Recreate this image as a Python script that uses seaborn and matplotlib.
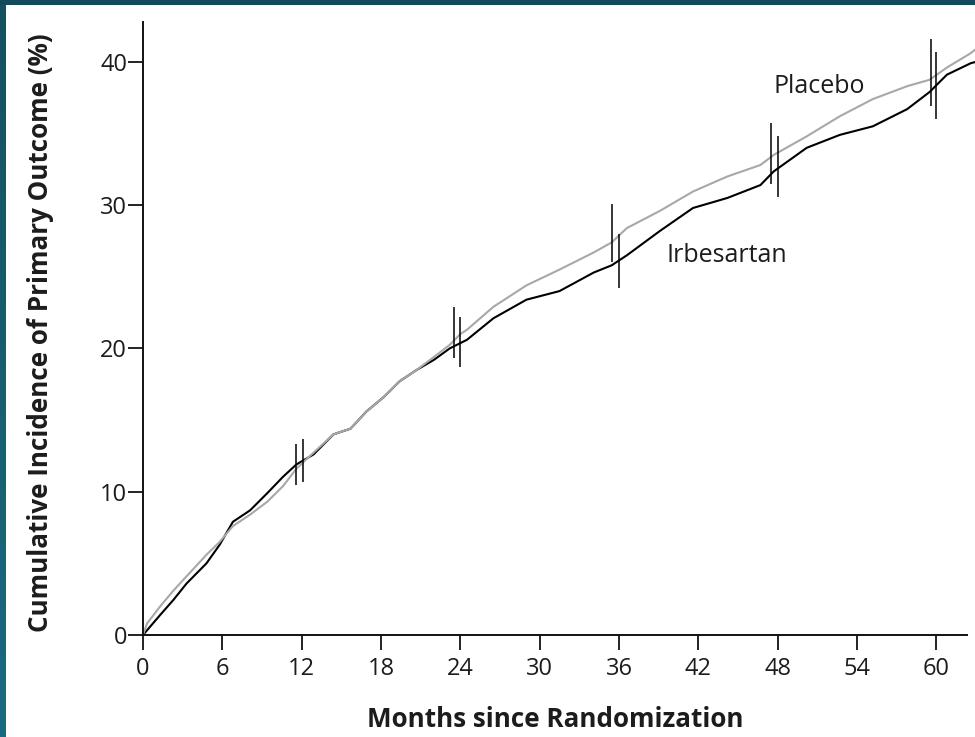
import numpy as np
import pandas as pd
import matplotlib
matplotlib.use("Agg")
import matplotlib.pyplot as plt
import seaborn as sns
from matplotlib.patches import Rectangle

# Kurvenwerte, Monate / kumulative Inzidenz in %
irb_months = [0, 1.3, 2.3, 3.3, 4.8, 5.8, 6.8, 8.1, 9.4, 10.6, 11.6, 12.9, 14.4, 15.7,
              16.9, 18.2, 19.4, 20.7, 22.0, 23.2, 24.5, 26.5, 29.0, 31.5, 34.1, 35.45,
              36.6, 39.1, 41.6, 44.2, 46.7, 47.7, 50.2, 52.7, 55.2, 57.8, 59.5, 60.8,
              62.6, 63.0]
irb_pct = [0, 1.4, 2.45, 3.6, 5.0, 6.3, 7.9, 8.7, 9.9, 11.05, 11.9, 12.6, 14.0, 14.4,
           15.6, 16.6, 17.7, 18.5, 19.2, 20.0, 20.6, 22.1, 23.4, 24.0, 25.3, 25.8,
           26.5, 28.2, 29.8, 30.5, 31.4, 32.35, 34.0, 34.9, 35.5, 36.7, 37.9, 39.1,
           39.9, 40.0]

plc_months = [0, 0.3, 1.3, 2.3, 3.3, 4.8, 5.8, 6.8, 8.1, 9.4, 10.6, 11.6, 12.4, 14.4,
              15.7, 16.9, 18.2, 19.4, 20.7, 22.0, 23.2, 24.0, 24.5, 26.5, 29.0, 31.5,
              34.1, 35.45, 36.6, 39.1, 41.6, 44.2, 46.7, 47.7, 50.2, 52.7, 55.2, 57.8,
              59.5, 60.8, 62.6, 63.0]
plc_pct = [0, 0.8, 2.0, 3.1, 4.1, 5.6, 6.5, 7.6, 8.4, 9.3, 10.4, 11.6, 12.3, 14.0,
           14.4, 15.6, 16.6, 17.7, 18.5, 19.4, 20.25, 21.0, 21.3, 22.9, 24.4, 25.5,
           26.7, 27.4, 28.4, 29.6, 30.95, 32.0, 32.8, 33.5, 34.8, 36.2, 37.4, 38.3,
           38.75, 39.6, 40.6, 40.9]

# Konfidenzintervalle (Placebo jeweils etwas links, Irbesartan auf dem Monat)
ci_x = [11.6, 12.1, 23.5, 24.0, 35.5, 36.0, 47.5, 48.0, 59.6, 60.0]
ci_lo = [10.5, 10.7, 19.3, 18.7, 26.0, 24.2, 31.5, 30.6, 36.9, 36.0]
ci_hi = [13.3, 13.7, 22.9, 22.2, 30.1, 28.0, 35.7, 34.8, 41.6, 40.7]

x_ticks = list(range(0, 61, 6))
y_ticks = [0, 10, 20, 30, 40]

df = pd.concat([
    pd.DataFrame({"month": irb_months, "pct": irb_pct, "group": "Irbesartan"}),
    pd.DataFrame({"month": plc_months, "pct": plc_pct, "group": "Placebo"}),
], ignore_index=True)

sns.set_style("ticks")
plt.rcParams["font.family"] = ["Open Sans", "DejaVu Sans"]

txt = "#1c1c1c"
fig = plt.figure(figsize=(9.75, 7.37), dpi=100)
ax = fig.add_axes([143 / 975, 102 / 737, 823.7 / 975, 613.3 / 737])

sns.lineplot(data=df, x="month", y="pct", hue="group",
             palette={"Irbesartan": "#000000", "Placebo": "#a8a8a8"},
             estimator=None, sort=False, legend=False, linewidth=1.5, ax=ax)
for ln in ax.lines:
    ln.set_clip_on(False)

ax.vlines(ci_x, ci_lo, ci_hi, color="black", linewidth=1.1)

ax.set_xlim(0, 62.3)
ax.set_ylim(0, 42.8)
ax.set_xticks(x_ticks)
ax.set_yticks(y_ticks)
sns.despine(ax=ax)
for s in ["left", "bottom"]:
    ax.spines[s].set_linewidth(1.4)
    ax.spines[s].set_color("#111111")
ax.tick_params(axis="both", direction="out", length=10.5, width=1.3, color="#111111",
               labelsize=17, labelcolor=txt)
ax.tick_params(axis="x", pad=5.5)
ax.tick_params(axis="y", pad=1)

ax.set_xlabel("Months since Randomization", fontsize=18.7, fontweight="bold", color=txt, va="center")
ax.set_ylabel("Cumulative Incidence of Primary Outcome (%)", fontsize=18.7, fontweight="bold",
              color=txt, va="center")
ax.xaxis.set_label_coords(0.5, -0.137)
ax.yaxis.set_label_coords(-0.125, 0.4924)

ax.text(47.65, 37.85, "Placebo", fontsize=18, color=txt, ha="left", va="baseline")
ax.text(39.6, 26.0, "Irbesartan", fontsize=18, color=txt, ha="left", va="baseline")

# dunkler Rahmen oben und links
fig.add_artist(Rectangle((0, 1 - 5 / 737), 1, 5 / 737, transform=fig.transFigure,
                         facecolor="#134a5b", edgecolor="none"))
bax = fig.add_axes([0, 0, 6 / 975, 1 - 5 / 737])
grad = np.linspace(0, 1, 256).reshape(-1, 1)
bax.imshow(grad, aspect="auto", cmap=matplotlib.colors.LinearSegmentedColormap.from_list(
    "rand", ["#15505f", "#1b6b81"]))
bax.axis("off")

fig.savefig("out.png", dpi=100)
